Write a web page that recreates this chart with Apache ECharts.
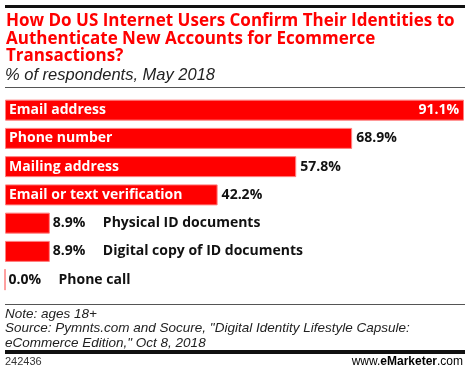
<!DOCTYPE html>
<html><head><meta charset="utf-8">
<script src="https://cdn.jsdelivr.net/npm/echarts@6/dist/echarts.min.js"></script>
<style>html,body{margin:0;padding:0;background:#fff}#c{width:470px;height:375px}</style>
</head><body><div id="c"></div>
<script>
const titleLines = ["How Do US Internet Users Confirm Their Identities to", "Authenticate New Accounts for Ecommerce", "Transactions?"];
const subtitle = "% of respondents, May 2018";
const categories = ["Email address", "Phone number", "Mailing address", "Email or text verification", "Physical ID documents", "Digital copy of ID documents", "Phone call"];
const values = [91.1, 68.9, 57.8, 42.2, 8.9, 8.9, 0.0];
const noteLines = ["Note: ages 18+", "Source: Pymnts.com and Socure, \"Digital Identity Lifestyle Capsule:", "eCommerce Edition,\" Oct 8, 2018"];
const chartId = "242436";

const RED = '#ff0000';
const BOLD = '"Open Sans", "DejaVu Sans", sans-serif';
const ITAL = '"Liberation Sans", Arial, sans-serif';
const INSIDE_MIN = 30;

const chart = echarts.init(document.getElementById('c'), null, {renderer: 'canvas'});

const mainData = values.map((v, i) => {
  const big = v >= INSIDE_MIN;
  return {
    value: v,
    label: big ? {
      show: true, position: 'insideLeft', distance: 4,
      formatter: categories[i], color: '#fff', fontFamily: BOLD, fontWeight: 'bold', fontSize: 14
    } : {
      show: true, position: 'right', distance: 3,
      formatter: '{v|' + v.toFixed(1) + '%}{c|' + categories[i] + '}',
      rich: {
        v: {width: 50, fontFamily: BOLD, fontWeight: 'bold', fontSize: 14, color: '#111'},
        c: {fontFamily: BOLD, fontWeight: 'bold', fontSize: 14, color: '#111'}
      }
    }
  };
});
const valData = values.map((v, i) => {
  const big = v >= INSIDE_MIN;
  const first = i === 0;
  return {
    value: v,
    label: big ? {
      show: true, position: first ? 'insideRight' : 'right', distance: first ? 5 : 4,
      formatter: v.toFixed(1) + '%', color: first ? '#fff' : '#111',
      fontFamily: BOLD, fontWeight: 'bold', fontSize: 14
    } : {show: false}
  };
});

function txt(x, y, text, font, fill, align) {
  return {type: 'text', x: x, y: y, style: {text: text, fill: fill, font: font, align: align || 'left', verticalAlign: 'middle'}};
}
const g = [];
g.push({type: 'rect', shape: {x: 5, y: 5, width: 460, height: 3}, style: {fill: '#111'}});
titleLines.forEach((t, i) => g.push(txt(6, 21.5 + i * 17.5, t, 'bold 17px ' + BOLD, RED)));
g.push(txt(5, 75, subtitle, 'italic 16.5px ' + ITAL, '#222'));
g.push({type: 'rect', shape: {x: 5, y: 87, width: 460, height: 1}, style: {fill: '#555'}});
g.push({type: 'rect', shape: {x: 5, y: 304, width: 460, height: 1}, style: {fill: '#555'}});
noteLines.forEach((t, i) => g.push(txt(5, 314.5 + i * 14.2, t, 'italic 13.5px ' + ITAL, '#222')));
g.push({type: 'rect', shape: {x: 5, y: 350, width: 460, height: 4}, style: {fill: '#111'}});
g.push(txt(5, 362, chartId, '11px ' + ITAL, '#333'));
g.push({type: 'text', x: 463, y: 362, style: {
  text: '{a|www.}{b|e}{c|Marketer}{a|.com}', align: 'right', verticalAlign: 'middle',
  rich: {a: {fontFamily: ITAL, fontSize: 12, color: '#333'},
         b: {fontFamily: ITAL, fontSize: 12, fontWeight: 'bold', color: RED},
         c: {fontFamily: ITAL, fontSize: 12, fontWeight: 'bold', color: '#333'}}}});

chart.setOption({
  animation: false,
  grid: {left: 5, right: 6, top: 96, height: 197.75, containLabel: false},
  xAxis: {type: 'value', min: 0, max: 'dataMax', show: false},
  yAxis: {type: 'category', data: categories, inverse: true, show: false},
  series: [
    {type: 'bar', data: mainData, barWidth: 21, itemStyle: {color: RED, borderColor: '#ff8080', borderWidth: 1}, z: 2},
    {type: 'bar', data: valData, barWidth: 21, barGap: '-100%', itemStyle: {color: 'rgba(0,0,0,0)'}, z: 3}
  ],
  graphic: g
});
</script></body></html>
